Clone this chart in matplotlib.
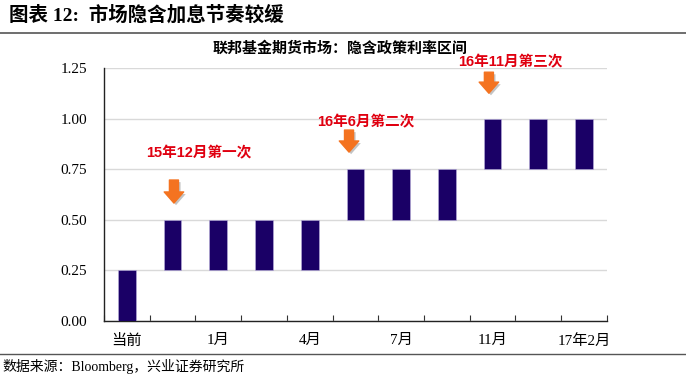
import matplotlib
matplotlib.use("Agg")
import matplotlib.pyplot as plt
import matplotlib.patheffects as pe
from matplotlib.lines import Line2D

plt.rcParams['font.family'] = ['Liberation Serif', 'Noto Sans CJK SC']

categories = ['当前', '15年12月', '1月', '3月', '4月', '6月', '7月', '9月', '11月', '12月', '17年2月']
tick_labels = ['当前', '', '1月', '', '4月', '', '7月', '', '11月', '', '17年2月']
lower = [0.00, 0.25, 0.25, 0.25, 0.25, 0.50, 0.50, 0.50, 0.75, 0.75, 0.75]
upper = [0.25, 0.50, 0.50, 0.50, 0.50, 0.75, 0.75, 0.75, 1.00, 1.00, 1.00]
y_ticks = [0.00, 0.25, 0.50, 0.75, 1.00, 1.25]

annot_text = ['15年12月第一次', '16年6月第二次', '16年11月第三次']
annot_arrow_x = [1.03, 4.86, 7.92]
annot_text_x = [1.58, 5.23, 8.4]
annot_text_y = [0.83, 0.98, 1.28]
arrow_top = [0.697, 0.944, 1.23]
arrow_bot = [0.583, 0.835, 1.126]

fig = plt.figure(figsize=(6.86, 3.89), dpi=100)
ax = fig.add_axes([0.1516, 0.1748, 0.733, 0.650])

x = list(range(len(categories)))
heights = [u - l for u, l in zip(upper, lower)]
ax.bar(x, heights, bottom=lower, width=0.39, color='#1a0066', edgecolor='#b9b0dd', linewidth=0.4, zorder=3)

ax.set_xlim(-0.5, len(categories) - 0.5)
ax.set_ylim(0, 1.25)
ax.set_yticks(y_ticks)
ax.set_yticklabels([f'{v:.2f}' for v in y_ticks], fontsize=11)
ax.yaxis.grid(True, color='#d9d9d9', linewidth=1.0, zorder=0)
ax.tick_params(axis='y', length=0, pad=12)

ax.set_xticks(x)
ax.set_xticklabels(tick_labels, fontsize=11)
ax.tick_params(axis='x', which='major', length=0, pad=9)
ax.set_xticks([i - 0.5 for i in range(len(categories) + 1)], minor=True)
ax.tick_params(axis='x', which='minor', direction='in', length=4, width=0.8, color='#333333')

for s in ['top', 'right']:
    ax.spines[s].set_visible(False)
for s in ['left', 'bottom']:
    ax.spines[s].set_color('#222222')
    ax.spines[s].set_linewidth(1.0)

for t, ax_x, tx, ty, a0, a1 in zip(annot_text, annot_arrow_x, annot_text_x, annot_text_y, arrow_top, arrow_bot):
    ax.text(tx, ty, t, color='#e00010', fontsize=10.5, fontweight='bold', ha='center', va='center',
            family=['Liberation Sans', 'Noto Sans CJK SC'], clip_on=False)
    ax.annotate('', xy=(ax_x, a1), xytext=(ax_x, a0),
                arrowprops=dict(arrowstyle='simple,head_length=8,head_width=14,tail_width=6.5',
                                mutation_scale=1, color='#f47320', shrinkA=0, shrinkB=0,
                                path_effects=[pe.SimplePatchShadow(offset=(1.5, -1.5), shadow_rgbFace='#888888', alpha=0.5), pe.Normal()]),
                annotation_clip=False)

fig.text(0.495, 0.876, '联邦基金期货市场：隐含政策利率区间', fontsize=10.8, fontweight='bold', ha='center', va='center',
         family=['Noto Sans CJK SC'])

fig.text(0.013, 0.962, '图表 12:  市场隐含加息节奏较缓', fontsize=14, fontweight='bold', ha='left', va='center',
         family=['Liberation Serif', 'Noto Sans CJK SC'])
fig.add_artist(Line2D([0.0, 1.0], [0.915, 0.915], color='#555555', linewidth=1.2, transform=fig.transFigure))
fig.add_artist(Line2D([0.0, 1.0], [0.090, 0.090], color='#555555', linewidth=1.0, transform=fig.transFigure))
fig.text(0.003, 0.058, '数据来源：Bloomberg，兴业证券研究所', fontsize=10, ha='left', va='center',
         family=['Liberation Serif', 'Noto Sans CJK SC'])

fig.savefig('out.png', dpi=100)
